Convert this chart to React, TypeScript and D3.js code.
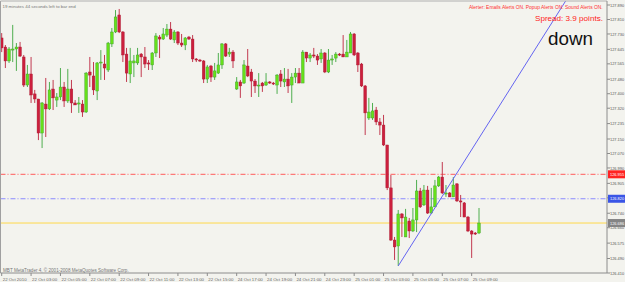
import React from "react";
import * as d3 from "d3";

const opens = [127.708,127.658,127.581,127.641,127.647,127.658,127.603,127.448,127.509,127.399,127.371,127.183,127.343,127.316,127.426,127.365,127.382,127.437,127.360,127.426,127.349,127.343,127.343,127.299,127.520,127.498,127.415,127.570,127.564,127.531,127.675,127.741,127.835,127.741,127.619,127.509,127.570,127.570,127.619,127.603,127.570,127.559,127.625,127.713,127.702,127.724,127.757,127.697,127.741,127.680,127.669,127.713,127.702,127.592,127.586,127.581,127.481,127.553,127.492,127.514,127.559,127.675,127.619,127.630,127.426,127.465,127.459,127.553,127.520,127.470,127.443,127.459,127.448,127.465,127.459,127.448,127.509,127.465,127.481,127.448,127.492,127.514,127.459,127.630,127.597,127.614,127.608,127.592,127.625,127.520,127.586,127.597,127.619,127.619,127.603,127.625,127.730,127.625,127.564,127.443,127.266,127.266,127.310,127.244,127.227,127.117,126.880,126.592,126.559,126.736,126.609,126.697,126.642,126.703,126.863,126.786,126.868,126.741,126.775,126.891,126.940,126.846,126.852,126.830,126.902,126.808,126.797,126.719,126.642,126.631,126.631];
const highs = [127.735,127.669,127.658,127.780,127.680,127.686,127.614,127.559,127.603,127.421,127.371,127.354,127.487,127.465,127.476,127.404,127.542,127.465,127.537,127.476,127.365,127.382,127.365,127.520,127.603,127.575,127.575,127.641,127.614,127.686,127.763,127.862,127.868,127.746,127.653,127.653,127.614,127.653,127.625,127.658,127.586,127.630,127.735,127.724,127.763,127.785,127.796,127.752,127.746,127.730,127.713,127.719,127.724,127.597,127.592,127.586,127.559,127.559,127.570,127.625,127.680,127.680,127.653,127.641,127.492,127.476,127.586,127.647,127.537,127.481,127.514,127.465,127.514,127.470,127.465,127.509,127.531,127.542,127.537,127.514,127.542,127.542,127.641,127.630,127.625,127.653,127.619,127.647,127.630,127.647,127.614,127.630,127.625,127.724,127.697,127.741,127.735,127.630,127.570,127.448,127.377,127.349,127.327,127.266,127.283,127.117,126.951,126.609,126.758,126.741,126.764,126.714,126.769,126.924,126.880,126.896,126.891,126.880,126.924,126.946,127.023,126.896,126.857,126.940,126.907,126.841,126.802,126.725,126.647,126.636,126.769];
const lows = [127.630,127.542,127.570,127.575,127.526,127.603,127.437,127.437,127.349,127.349,127.144,127.100,127.161,127.310,127.310,127.327,127.365,127.327,127.349,127.294,127.338,127.294,127.272,127.294,127.437,127.393,127.365,127.476,127.476,127.520,127.658,127.735,127.735,127.575,127.465,127.459,127.492,127.559,127.492,127.542,127.531,127.531,127.603,127.597,127.697,127.713,127.697,127.680,127.669,127.658,127.641,127.697,127.575,127.575,127.575,127.459,127.459,127.465,127.476,127.509,127.537,127.603,127.603,127.542,127.421,127.377,127.454,127.492,127.382,127.404,127.382,127.410,127.443,127.454,127.448,127.399,127.437,127.437,127.404,127.349,127.459,127.459,127.459,127.575,127.575,127.597,127.559,127.570,127.514,127.514,127.559,127.575,127.608,127.603,127.603,127.625,127.608,127.520,127.437,127.172,127.255,127.255,127.227,127.172,127.111,126.868,126.587,126.482,126.449,126.609,126.609,126.603,126.636,126.636,126.769,126.780,126.736,126.736,126.775,126.885,126.846,126.830,126.830,126.830,126.802,126.719,126.719,126.636,126.493,126.620,126.625];
const closes = [127.653,127.581,127.647,127.647,127.658,127.608,127.448,127.509,127.393,127.371,127.183,127.349,127.316,127.421,127.377,127.382,127.437,127.360,127.426,127.349,127.338,127.349,127.299,127.514,127.503,127.421,127.570,127.575,127.542,127.680,127.741,127.824,127.741,127.614,127.514,127.581,127.581,127.614,127.603,127.564,127.564,127.625,127.719,127.702,127.730,127.757,127.702,127.741,127.680,127.669,127.708,127.702,127.592,127.586,127.581,127.481,127.548,127.492,127.526,127.559,127.675,127.608,127.630,127.581,127.465,127.443,127.559,127.498,127.470,127.443,127.448,127.443,127.465,127.459,127.454,127.503,127.470,127.481,127.443,127.492,127.514,127.459,127.630,127.597,127.614,127.608,127.586,127.625,127.520,127.586,127.592,127.619,127.614,127.603,127.630,127.730,127.614,127.559,127.443,127.294,127.299,127.305,127.244,127.227,127.117,126.880,126.592,126.554,126.736,126.714,126.719,126.642,126.703,126.863,126.775,126.868,126.741,126.775,126.891,126.940,126.852,126.852,126.830,126.896,126.808,126.802,126.719,126.642,126.625,126.625,126.686];

const timeLabels = ["22 Oct 2010","22 Oct 03:00","22 Oct 05:00","22 Oct 07:00","22 Oct 09:00","22 Oct 11:00","22 Oct 13:00","22 Oct 15:00","24 Oct 17:00","24 Oct 19:00","24 Oct 21:00","24 Oct 23:00","25 Oct 01:00","25 Oct 03:00","25 Oct 05:00","25 Oct 07:00","25 Oct 09:00"];
const timeLabelBars = [0,8,16,24,32,40,48,56,64,72,80,88,96,104,112,120,128];
const priceLabels = [127.890,127.810,127.730,127.645,127.565,127.480,127.400,127.320,127.235,127.150,127.070,126.990,126.905,126.825,126.740,126.660,126.575,126.490,126.410];

const redLevel = 126.955;
const blueLevel = 126.820;
const trendBars = [108, 130];
const trendPrices = [126.449, 127.155];

const W = 625, H = 282;
const PL = 0.5, PT = 1, PR = 607, PB = 273;
const FONT = "'Liberation Sans', Arial, sans-serif";

export default function App() {
  const x = d3.scaleLinear().domain([0, 130]).range([1.7, 479]);
  const y = d3.scaleLinear().domain([126.41, 127.89]).range([273, 5]);
  const bodyW = 2.7;

  const slope = (trendPrices[1] - trendPrices[0]) / (trendBars[1] - trendBars[0]);
  const topPrice = y.invert(PT);
  const endBar = trendBars[0] + (topPrice - trendPrices[0]) / slope;
  const trendPath = d3.line<[number, number]>()
    .x((d) => x(d[0]))
    .y((d) => y(d[1]))([[trendBars[0], trendPrices[0]], [endBar, topPrice]]);

  const bid = closes[closes.length - 1];

  return (
    <svg width={W} height={H} style={{ position: "fixed", left: 0, top: 0, display: "block" }} fontFamily={FONT}>
      <defs>
        <clipPath id="plot"><rect x={PL} y={PT} width={PR - PL} height={PB - PT} /></clipPath>
      </defs>
      <rect x={0} y={0} width={W} height={H} fill="#f3f3ee" />
      <g clipPath="url(#plot)">
        <line x1={PL} x2={PR} y1={y(redLevel)} y2={y(redLevel)} stroke="#ff5a5a" strokeWidth={1} strokeDasharray="5,2,1,2" />
        <line x1={PL} x2={PR} y1={y(blueLevel)} y2={y(blueLevel)} stroke="#8a8aff" strokeWidth={1} strokeDasharray="5,2,1,2" />
        <line x1={PL} x2={PR} y1={y(bid)} y2={y(bid)} stroke="#ffd84a" strokeWidth={1} />
        {opens.map((o, i) => {
          const c = closes[i];
          const up = c >= o;
          const cx = x(i);
          const top = y(Math.max(o, c));
          const bot = y(Math.min(o, c));
          return (
            <g key={i}>
              <line x1={cx} x2={cx} y1={y(highs[i])} y2={y(lows[i])} stroke={up ? "#4fae4f" : "#c23a50"} strokeWidth={1} />
              <rect x={cx - bodyW / 2} y={top} width={bodyW} height={Math.max(1, bot - top)}
                fill={up ? "#66e01a" : "#cc1f3d"} stroke={up ? "#3a9a2a" : "#a8182f"} strokeWidth={0.4} />
            </g>
          );
        })}
        <path d={trendPath || ""} stroke="#6464f0" strokeWidth={1} fill="none" />
      </g>
      <line x1={PL} x2={PL} y1={PT} y2={PB} stroke="#a0a0a0" />
      <line x1={PL} x2={PR} y1={PT} y2={PT} stroke="#b0b0b0" />
      <line x1={PR} x2={PR} y1={PT} y2={PB} stroke="#8c8c8c" />
      <line x1={PL} x2={PR} y1={PB} y2={PB} stroke="#8c8c8c" />
      {priceLabels.map((p) => (
        <g key={p}>
          <line x1={PR} x2={PR + 3} y1={y(p)} y2={y(p)} stroke="#8c8c8c" />
          <text x={610} y={y(p) + 1.6} fontSize={3.9} fill="#555">{p.toFixed(3)}</text>
        </g>
      ))}
      {[{ v: redLevel, c: "#ff2222" }, { v: blueLevel, c: "#3a55e6" }, { v: bid, c: "#858585" }].map((d) => (
        <g key={d.v}>
          <rect x={PR + 1} y={y(d.v) - 4} width={W - PR} height={8} fill={d.c} />
          <text x={610} y={y(d.v) + 1.6} fontSize={3.9} fill="#fff">{d.v.toFixed(3)}</text>
        </g>
      ))}
      {timeLabels.map((t, k) => (
        <g key={t}>
          <line x1={x(timeLabelBars[k])} x2={x(timeLabelBars[k])} y1={PB} y2={PB + 3} stroke="#8c8c8c" />
          <text x={x(timeLabelBars[k]) + 1} y={280.5} fontSize={4.4} fill="#666">{t}</text>
        </g>
      ))}
      <text x={2.5} y={7.5} fontSize={4.4} fill="#777">19 minutes 44 seconds left to bar end</text>
      <text x={469} y={8.5} fontSize={4.9} fill="#ff3030">Alerter: Emails Alerts ON. Popup Alerts ON. Sound Alerts ON.</text>
      <text x={535} y={21} fontSize={8.1} fill="#ff1a1a">Spread: 3.9 points.</text>
      <text x={548} y={45} fontSize={18.8} fill="#111">down</text>
      <text x={3} y={271.5} fontSize={4.6} fill="#777">MBT MetaTrader 4, © 2001-2008 MetaQuotes Software Corp.</text>
    </svg>
  );
}
